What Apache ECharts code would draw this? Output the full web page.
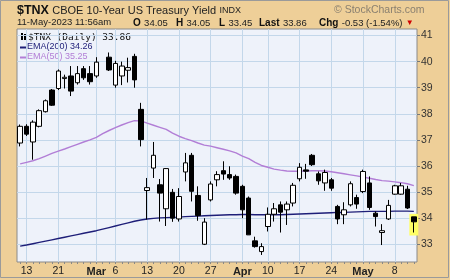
<!DOCTYPE html>
<html><head><meta charset="utf-8">
<script src="https://cdn.jsdelivr.net/npm/echarts@6/dist/echarts.min.js"></script>
<style>html,body{margin:0;padding:0;background:#EECF98;}#c{width:450px;height:280px;}</style>
</head><body><div id="c"></div>
<script>
const dates = ['2023-02-10','2023-02-13','2023-02-14','2023-02-15','2023-02-16','2023-02-17','2023-02-21','2023-02-22','2023-02-23','2023-02-24','2023-02-27','2023-02-28',
'2023-03-01','2023-03-02','2023-03-03','2023-03-06','2023-03-07','2023-03-08','2023-03-09','2023-03-10','2023-03-13','2023-03-14','2023-03-15','2023-03-16','2023-03-17',
'2023-03-20','2023-03-21','2023-03-22','2023-03-23','2023-03-24','2023-03-27','2023-03-28','2023-03-29','2023-03-30','2023-03-31',
'2023-04-03','2023-04-04','2023-04-05','2023-04-06','2023-04-10','2023-04-11','2023-04-12','2023-04-13','2023-04-14','2023-04-17','2023-04-18','2023-04-19','2023-04-20','2023-04-21',
'2023-04-24','2023-04-25','2023-04-26','2023-04-27','2023-04-28','2023-05-01','2023-05-02','2023-05-03','2023-05-04','2023-05-05','2023-05-08','2023-05-09','2023-05-10','2023-05-11'];
const xLabels = ['','13','','','','','21','','','','','',
'Mar','','','6','','','','','13','','','','',
'20','','','','','27','','','','',
'Apr','','','','10','','','','','17','','','','',
'24','','','','','May','','','','','8','','',''];
const monthLabels = ['Mar','Apr','May'];
// Mar 2 (index 13) shows no visible candle in the picture
const opens  = [36.88,37.52,36.92,37.52,38.08,38.91,38.97,39.35,39.45,39.19,39.73,39.54,39.45,null,40.17,39.10,39.45,39.67,40.20,38.17,35.06,35.92,35.28,34.36,34.99,33.97,35.77,36.41,34.87,33.00,34.70,35.47,35.82,35.67,35.60,35.22,34.77,33.13,32.72,33.68,34.15,34.51,34.32,34.58,35.51,35.85,36.41,35.70,35.35,35.47,34.45,34.13,34.51,34.79,35.02,35.35,34.19,33.45,33.97,34.92,34.92,35.11,34.05];
const highs  = [37.59,37.60,37.75,38.17,38.55,38.95,39.70,39.50,39.83,39.83,39.83,39.83,40.17,null,40.35,40.03,40.00,40.15,40.30,38.42,35.54,36.92,35.50,35.92,35.12,35.15,36.50,36.50,35.22,34.00,35.41,35.80,36.18,35.99,35.67,35.28,34.83,33.29,33.04,34.41,34.58,34.64,34.64,35.35,36.11,36.08,36.46,35.79,35.86,35.54,34.51,34.61,35.41,34.90,35.86,35.60,34.26,33.77,34.70,35.28,35.35,35.24,34.05];
const lows   = [36.75,37.15,36.24,37.48,38.05,38.30,38.91,38.97,38.68,39.12,39.30,39.12,39.38,null,39.64,39.00,39.10,39.20,39.00,36.75,33.95,35.54,33.87,33.70,33.86,33.87,35.41,34.64,33.90,32.97,34.64,35.22,35.47,35.47,34.90,34.00,33.36,32.87,32.59,33.49,33.87,33.45,33.74,34.45,35.41,35.51,36.00,35.28,35.05,35.05,33.77,33.77,34.45,34.36,34.96,34.32,33.68,32.97,33.93,34.90,34.90,34.35,33.45];
const closes = [37.52,37.22,37.68,38.12,38.50,38.33,39.64,39.40,38.87,39.54,39.38,39.23,39.98,null,39.68,39.93,39.83,39.77,39.30,37.01,35.17,36.41,34.96,35.90,34.00,34.83,36.12,35.03,34.10,33.85,35.31,35.67,35.69,35.54,34.96,34.32,33.36,32.91,32.91,34.15,34.36,34.23,34.54,35.26,35.95,35.80,36.05,35.43,35.75,35.15,33.97,34.32,35.32,34.54,35.79,34.41,34.06,33.52,34.49,35.24,35.24,34.39,33.86];
const ema200 = [32.93,32.97,33.02,33.07,33.12,33.17,33.22,33.27,33.32,33.37,33.42,33.47,33.52,33.58,33.64,33.70,33.76,33.82,33.88,33.93,33.97,33.99,34.01,34.02,34.03,34.04,34.06,34.07,34.08,34.09,34.10,34.11,34.12,34.13,34.13,34.14,34.14,34.13,34.13,34.13,34.13,34.13,34.14,34.15,34.16,34.17,34.18,34.19,34.20,34.21,34.22,34.22,34.23,34.24,34.25,34.26,34.26,34.26,34.26,34.27,34.27,34.27,34.26];
const ema50  = [36.08,36.14,36.20,36.28,36.38,36.48,36.57,36.65,36.74,36.83,36.92,37.00,37.10,37.24,37.36,37.47,37.57,37.66,37.74,37.73,37.64,37.56,37.48,37.40,37.26,37.14,37.05,36.97,36.88,36.80,36.76,36.70,36.64,36.58,36.50,36.38,36.28,36.14,36.02,35.95,35.88,35.84,35.81,35.80,35.80,35.81,35.82,35.82,35.81,35.78,35.74,35.70,35.66,35.62,35.58,35.53,35.48,35.44,35.42,35.39,35.36,35.32,35.25];
const yTicks = [33,34,35,36,37,38,39,40,41];

const n = dates.length, last = n - 1;
const chg = closes[last] - closes[last - 1];
const chgPct = chg / closes[last - 1] * 100;
const FONT = 'Liberation Sans, Arial, sans-serif';
const chart = echarts.init(document.getElementById('c'), null, {renderer: 'canvas'});
const ohlc = dates.map((d, i) => opens[i] == null ? '-' : [opens[i], closes[i], lows[i], highs[i]]);
const f2 = (v) => v.toFixed(2);

chart.setOption({
  animation: false,
  backgroundColor: '#EECF98',
  grid: {left: 17, right: 33, top: 29, bottom: 18, show: true, backgroundColor: '#EEF2FA', borderColor: '#8a8a8a', borderWidth: 1},
  xAxis: {
    type: 'category', data: dates, boundaryGap: true,
    axisLine: {show: false},
    axisTick: {show: true, interval: 0, alignWithLabel: true, length: 2, lineStyle: {color: '#888'}},
    axisLabel: {
      interval: (i) => xLabels[i] !== '', margin: 4, fontSize: 10.5, fontFamily: FONT, color: '#222',
      formatter: (v, i) => monthLabels.includes(xLabels[i]) ? '{b|' + xLabels[i] + '}' : xLabels[i],
      rich: {b: {fontWeight: 'bold', fontSize: 11, fontFamily: FONT, color: '#222'}}
    },
    splitLine: {show: true, interval: (i) => xLabels[i] !== '', alignWithLabel: true, lineStyle: {color: '#C3D7EA', width: 1}}
  },
  yAxis: {
    type: 'value', position: 'right', min: 32.32, max: 41.25,
    axisLine: {show: false},
    axisTick: {show: true, customValues: yTicks, length: 3, lineStyle: {color: '#777'}},
    axisLabel: {customValues: yTicks, margin: 4, fontSize: 10.5, fontFamily: FONT, color: '#333'},
    splitLine: {show: true, lineStyle: {color: '#C3D7EA', width: 1}}
  },
  series: [
    {type: 'custom', z: 1, silent: true, data: [[last, lows[last], highs[last]]], encode: {x: 0, y: [1, 2]},
      renderItem: (p, api) => {
        const a = api.coord([api.value(0), api.value(2)]);
        const b = api.coord([api.value(0), api.value(1)]);
        return {type: 'rect', shape: {x: a[0] - 4.5, y: a[1] - 3, width: 9, height: b[1] - a[1] + 6}, style: {fill: '#FFFF66'}};
      }},
    {type: 'line', data: ema200, symbol: 'none', z: 2, lineStyle: {color: '#1E1E78', width: 1.4}},
    {type: 'line', data: ema50, symbol: 'none', z: 2, lineStyle: {color: '#B27ED6', width: 1.4}},
    {type: 'candlestick', data: ohlc, z: 3, barWidth: 5,
      itemStyle: {color: '#ffffff', color0: '#000000', borderColor: '#000000', borderColor0: '#000000', borderWidth: 1}}
  ],
  graphic: [
    {type: 'rect', shape: {x: 0.5, y: 0.5, width: 448, height: 277}, style: {fill: 'none', stroke: '#9a9a9a', lineWidth: 1}, silent: true},
    {type: 'text', x: 17, y: 4, style: {text: '{b|$TNX} {n|CBOE 10-Year US Treasury Yield} {s|INDX}', rich: {
      b: {fontWeight: 'bold', fontSize: 12.5, fontFamily: FONT, fill: '#111'},
      n: {fontSize: 11, fontFamily: FONT, fill: '#222'},
      s: {fontSize: 9, fontFamily: FONT, fill: '#222'}}}},
    {type: 'text', x: 334, y: 5, style: {text: '© StockCharts.com', fontSize: 10.5, fontFamily: FONT, fill: '#8a8070'}},
    {type: 'text', x: 17, y: 17.5, style: {text: '11-May-2023 11:56am', fontSize: 9.5, fontFamily: FONT, fill: '#222'}},
    {type: 'text', x: 133, y: 17, style: {text: '{b|O} {n|' + f2(opens[last]) + '}', rich: {b: {fontWeight: 'bold', fontSize: 10, fontFamily: FONT, fill: '#111'}, n: {fontSize: 9.5, fontFamily: FONT, fill: '#222'}}}},
    {type: 'text', x: 176, y: 17, style: {text: '{b|H} {n|' + f2(highs[last]) + '}', rich: {b: {fontWeight: 'bold', fontSize: 10, fontFamily: FONT, fill: '#111'}, n: {fontSize: 9.5, fontFamily: FONT, fill: '#222'}}}},
    {type: 'text', x: 219, y: 17, style: {text: '{b|L} {n|' + f2(lows[last]) + '}', rich: {b: {fontWeight: 'bold', fontSize: 10, fontFamily: FONT, fill: '#111'}, n: {fontSize: 9.5, fontFamily: FONT, fill: '#222'}}}},
    {type: 'text', x: 259, y: 17, style: {text: '{b|Last} {n|' + f2(closes[last]) + '}', rich: {b: {fontWeight: 'bold', fontSize: 10, fontFamily: FONT, fill: '#111'}, n: {fontSize: 9.5, fontFamily: FONT, fill: '#222'}}}},
    {type: 'text', x: 319, y: 17, style: {text: '{b|Chg} {n|' + f2(chg) + ' (' + f2(chgPct) + '%)} {r|▼}', rich: {b: {fontWeight: 'bold', fontSize: 10, fontFamily: FONT, fill: '#111'}, n: {fontSize: 9.5, fontFamily: FONT, fill: '#222'}, r: {fontSize: 8, fontFamily: FONT, fill: '#d00000'}}}},
    {type: 'rect', shape: {x: 21, y: 33, width: 2, height: 7}, style: {fill: '#000'}},
    {type: 'rect', shape: {x: 24, y: 34, width: 2, height: 6}, style: {fill: '#000'}},
    {type: 'text', x: 28, y: 32.5, style: {text: '$TNX (Daily) ' + f2(closes[last]), fontSize: 9.5, fontFamily: 'DejaVu Sans Mono, monospace', fill: '#111'}},
    {type: 'rect', shape: {x: 20, y: 46.5, width: 6, height: 2}, style: {fill: '#1E1E78'}},
    {type: 'text', x: 27, y: 42.5, style: {text: 'EMA(200) ' + f2(ema200[last]), fontSize: 9, fontFamily: FONT, fill: '#1E1E78'}},
    {type: 'rect', shape: {x: 20, y: 56.5, width: 6, height: 2}, style: {fill: '#B27ED6'}},
    {type: 'text', x: 27, y: 52.5, style: {text: 'EMA(50) ' + f2(ema50[last]), fontSize: 9, fontFamily: FONT, fill: '#B27ED6'}}
  ]
});
</script></body></html>
